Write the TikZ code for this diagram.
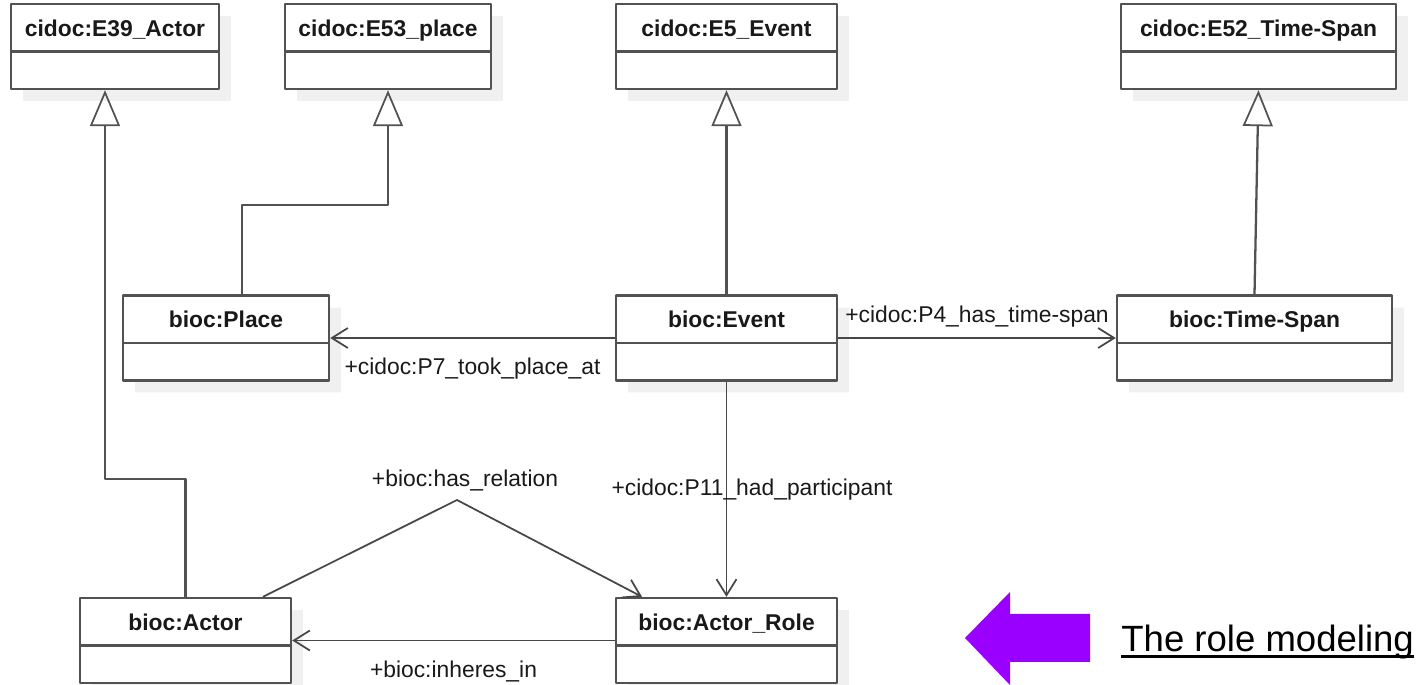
\documentclass[tikz,border=0pt]{standalone}
\usepackage{fontspec}
\setmainfont{Liberation Sans}
\usetikzlibrary{arrows.meta,shadows,shapes.multipart}

\definecolor{roleviolet}{HTML}{9900FF}
\newcommand{\classtitle}[1]{\rule[-0.28cm]{0pt}{0.9cm}\textbf{#1}\nodepart{second}\rule{0pt}{0.7cm}}

\tikzset{
  classe/.style={rectangle split, rectangle split parts=2, draw=black!68, line width=1.4pt,
    fill=white, inner sep=0pt, align=center, text=black!90,
    font=\fontsize{13pt}{15pt}\selectfont,
    drop shadow={shadow xshift=0.24cm, shadow yshift=-0.24cm, fill=black!6, opacity=1}},
  gen/.style={draw=black!68, line width=1.3pt,
    -{Triangle[open, length=0.72cm, width=0.6cm, line width=1pt]}},
  assoc/.style={draw=black!72, line width=1pt,
    -{Straight Barb[length=0.32cm, width=0.4cm, line width=1pt]}},
  lbl/.style={font=\fontsize{13pt}{15pt}\selectfont, text=black!90, inner sep=0.05cm}
}

\begin{document}
\begin{tikzpicture}[x=0.02cm, y=-0.02cm, line join=round]
\useasboundingbox (0,0) rectangle (1421,685);

% classes cidoc
\node[classe, text width=4.16cm] (e39) at (115,46.5) {\classtitle{cidoc:E39\_Actor}};
\node[classe, text width=4.12cm] (e53) at (388,46.5) {\classtitle{cidoc:E53\_place}};
\node[classe, text width=4.42cm] (e5) at (726.5,46.5) {\classtitle{cidoc:E5\_Event}};
\node[classe, text width=5.5cm] (e52) at (1258.5,46.5) {\classtitle{cidoc:E52\_Time-Span}};

% classes bioc
\node[classe, text width=4.12cm] (place) at (226,338) {\classtitle{bioc:Place}};
\node[classe, text width=4.42cm] (event) at (726.5,338) {\classtitle{bioc:Event}};
\node[classe, text width=5.5cm] (timespan) at (1254.5,338) {\classtitle{bioc:Time-Span}};
\node[classe, text width=4.22cm] (actor) at (185.5,640.5) {\classtitle{bioc:Actor}};
\node[classe, text width=4.42cm] (role) at (726.5,640.5) {\classtitle{bioc:Actor\_Role}};

% generalisations
\draw[gen] (actor.north) -- ++(0,-118) -| ([xshift=-0.2cm]e39.south);
\draw[gen] ([xshift=0.32cm]place.north) -- ++(0,-89) -| (e53.south);
\draw[gen] (event.north) -- (e5.south);
\draw[gen] (timespan.north) -- (e52.south);

% associations
\draw[assoc] (event.west) -- (place.east) node[lbl, midway, below=0.33cm] (p7) {+cidoc:P7\_took\_place\_at};
\draw[assoc] (event.east) -- (timespan.west) node[lbl, midway, above=0.15cm] (p4) {+cidoc:P4\_has\_time-span};
\draw[assoc] (event.south) -- (role.north) node[lbl, midway, xshift=0.51cm] (p11) {+cidoc:P11\_had\_participant};
\coordinate (relation) at (457,500);
\draw[assoc] ([xshift=1.55cm]actor.north) -- (relation) -- ([xshift=-1.69cm]role.north);
\node[lbl, above=0.13cm, xshift=0.16cm] (hasrel) at (relation) {+bioc:has\_relation};
\draw[assoc] (role.west) -- (actor.east) node[lbl, midway, below=0.35cm] (inheres) {+bioc:inheres\_in};

% fleche violette
\fill[roleviolet] (965,638) -- (1010,592) -- (1010,614) -- (1090,614) -- (1090,662) -- (1010,662) -- (1010,685) -- cycle;
\node[anchor=base west, inner sep=0pt, font=\fontsize{20.8pt}{24pt}\selectfont] (title) at (1121,652) {The role modeling};
\draw[line width=2pt] ([yshift=-0.09cm]title.base west) -- ([yshift=-0.09cm]title.base east); % souligne

\end{tikzpicture}
\end{document}
